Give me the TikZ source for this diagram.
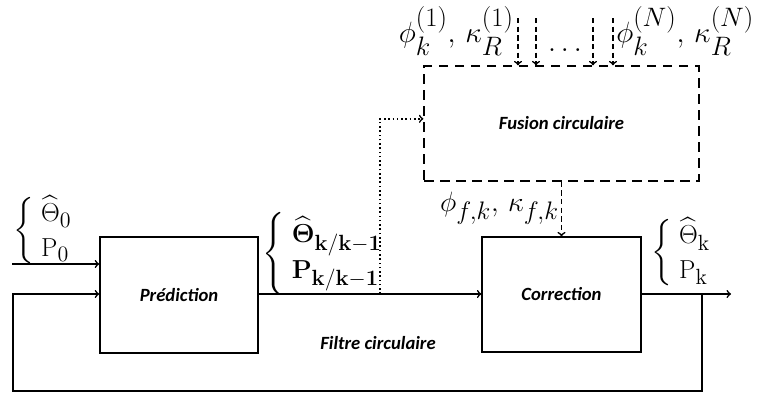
\RequirePackage{fix-cm}
\documentclass[tikz,border=0pt]{standalone}
\usepackage{amsmath}
\usepackage[no-math]{fontspec}
\newfontfamily\blocfont{Carlito}
\usepackage{tikz}
\usetikzlibrary{arrows}
\DeclareMathSizes{19.5}{19.5}{16.5}{12}
\DeclareMathSizes{21}{21}{19}{14}
\DeclareMathSizes{22}{22}{20}{14}

\tikzset{
  blocbox/.style={draw, line width=1.2pt, inner sep=0pt, font=\blocfont\bfseries\itshape\fontsize{14}{16}\selectfont},
  flow/.style={line width=1.2pt, ->, >=to},
  fusionflow/.style={line width=1.2pt, dash pattern=on 4pt off 2.5pt, ->, >=to},
  mathlabel/.style={inner sep=0pt, font=\fontsize{19.5}{24}\selectfont},
  fusionlabel/.style={inner sep=0pt, font=\fontsize{21}{26}\selectfont},
  toplabel/.style={inner sep=0pt, font=\fontsize{22}{26}\selectfont}
}

\begin{document}
\begin{tikzpicture}[x=0.75pt,y=0.75pt,yscale=-1,xscale=1]
\useasboundingbox (0,0) rectangle (769,396);

%Shape: Rectangle
\node [blocbox, minimum width=118.5pt, minimum height=87pt] (pred) at (179,295) {Prédiction};
%Shape: Rectangle
\node [blocbox, minimum width=119pt, minimum height=86pt] (corr) at (561.5,294.5) {Correction};
%Shape: Rectangle
\node [blocbox, dash pattern=on 7pt off 5pt, minimum width=206pt, minimum height=86pt] (fusion) at (561.5,123.5) {Fusion circulaire};

% Coordinates
\coordinate (in) at (12,264);
\coordinate (split) at (380,294);
\coordinate (tap) at (702,294);
\coordinate (out) at (731,294);
\coordinate (loopR) at (702,391);
\coordinate (loopL) at (13,391);

%Straight Lines
\draw [flow] (in) -- (in -| pred.west);
\draw [flow] (pred.east |- split) -- (corr.west |- split);
\draw [flow] (corr.east |- tap) -- (out);
\draw [flow] (tap) -- (loopR) -- (loopL) |- (pred.west |- split);
\draw [flow, dotted] (split) |- ([yshift=-3.5pt]fusion.west);
\draw [fusionflow] (fusion.south) -- (corr.north);

% inputs of the fusion
\foreach \x [count=\i] in {518,536,593,613} {
  \coordinate (src\i) at (\x,18);
  \draw [fusionflow] (src\i) -- (src\i |- fusion.north);
}

% Text Node
\node [toplabel, anchor=base] (dots) at (565,51) {$\ldots$};
% Text Node
\node [toplabel, anchor=east] (lab1) at (514,31) {$\phi_k^{(1)},\,\kappa_R^{(1)}$};
% Text Node
\node [toplabel, anchor=west] (labN) at (616,31) {$\phi_k^{(N)},\,\kappa_R^{(N)}$};
% Text Node
\node [fusionlabel, anchor=east] (labf) at (559,208) {$\phi_{f,k},\,\kappa_{f,k}$};
% Text Node
\node [mathlabel, anchor=west] (init) at (13,231) {$\left\{\;\begin{array}{@{}l@{}}\widehat{\mathrm{\Theta}}_{\mathrm{0}}\\[2pt] \mathrm{P_0}\end{array}\right.$};
% Text Node
\node [mathlabel, anchor=west] (predlab) at (262,254) {$\left\{\;\begin{array}{@{}l@{}}\widehat{\mathbf{\Theta}}_{\mathbf{k/k-1}}\\[2pt] \mathbf{P_{k/k-1}}\end{array}\right.$};
% Text Node
\node [mathlabel, anchor=west] (corrlab) at (651,253) {$\left\{\;\begin{array}{@{}l@{}}\widehat{\mathrm{\Theta}}_{\mathrm{k}}\\[2pt] \mathrm{P_k}\end{array}\right.$};
% Text Node
\node [blocbox, draw=none] (filtre) at (378,343) {Filtre circulaire};

\end{tikzpicture}
\end{document}
